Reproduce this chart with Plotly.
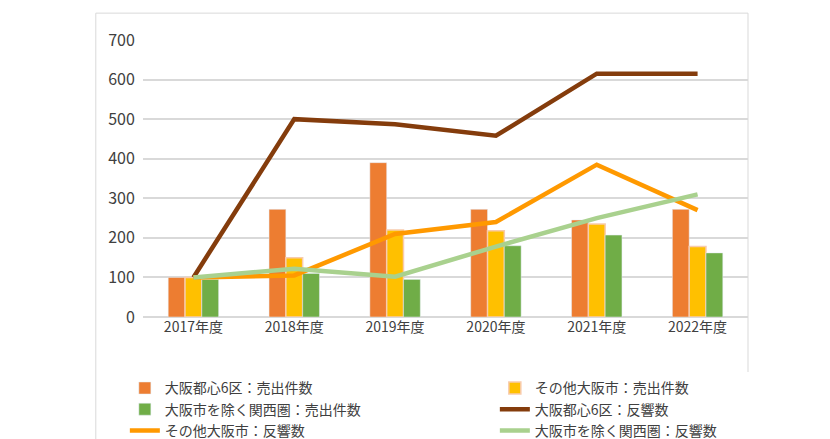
import plotly.graph_objects as go

years = ['2017年度', '2018年度', '2019年度', '2020年度', '2021年度', '2022年度']
toshin_uri = [100, 272, 390, 272, 245, 272]
sonota_uri = [100, 150, 220, 218, 235, 178]
kansai_uri = [95, 110, 95, 180, 207, 162]
toshin_han = [100, 500, 487, 458, 615, 615]
sonota_han = [100, 105, 210, 240, 385, 270]
kansai_han = [100, 122, 102, 178, 250, 310]

fig = go.Figure()
fig.add_trace(go.Bar(x=years, y=toshin_uri, name='大阪都心6区：売出件数', marker_color='#ED7D31'))
fig.add_trace(go.Bar(x=years, y=sonota_uri, name='その他大阪市：売出件数', marker_color='#FFC000',
                     marker_line=dict(color='#F8CBAD', width=1.5)))
fig.add_trace(go.Bar(x=years, y=kansai_uri, name='大阪市を除く関西圏：売出件数', marker_color='#70AD47'))
fig.add_trace(go.Scatter(x=years, y=toshin_han, name='大阪都心6区：反響数', mode='lines',
                         line=dict(color='#843C0C', width=4.5)))
fig.add_trace(go.Scatter(x=years, y=sonota_han, name='その他大阪市：反響数', mode='lines',
                         line=dict(color='#FF9900', width=4.5)))
fig.add_trace(go.Scatter(x=years, y=kansai_han, name='大阪市を除く関西圏：反響数', mode='lines',
                         line=dict(color='#A9D18E', width=4.5)))

fig.update_layout(
    width=830, height=439,
    margin=dict(l=135, r=90, t=32, b=130, autoexpand=False),
    paper_bgcolor='white', plot_bgcolor='white',
    font=dict(family='Noto Sans CJK JP', size=14, color='#404040'),
    barmode='group', bargap=0.5, bargroupgap=0,
    xaxis=dict(showgrid=False, tickfont=dict(size=14), ticks=''),
    yaxis=dict(range=[0, 700], dtick=100, gridcolor='#D9D9D9', gridwidth=1.5,
               zeroline=True, zerolinecolor='#D9D9D9', zerolinewidth=1.5,
               tickfont=dict(size=16), ticksuffix='  '),
    legend=dict(orientation='h', x=-0.03, y=-0.2, yanchor='top', xanchor='left',
                entrywidth=325, font=dict(size=14), tracegroupgap=0),
    shapes=[dict(type='rect', xref='paper', yref='paper',
                 x0=-0.078, x1=1.0, y0=-0.455, y1=1.097,
                 line=dict(color='#D9D9D9', width=1))],
)

fig.write_html("out.html")
